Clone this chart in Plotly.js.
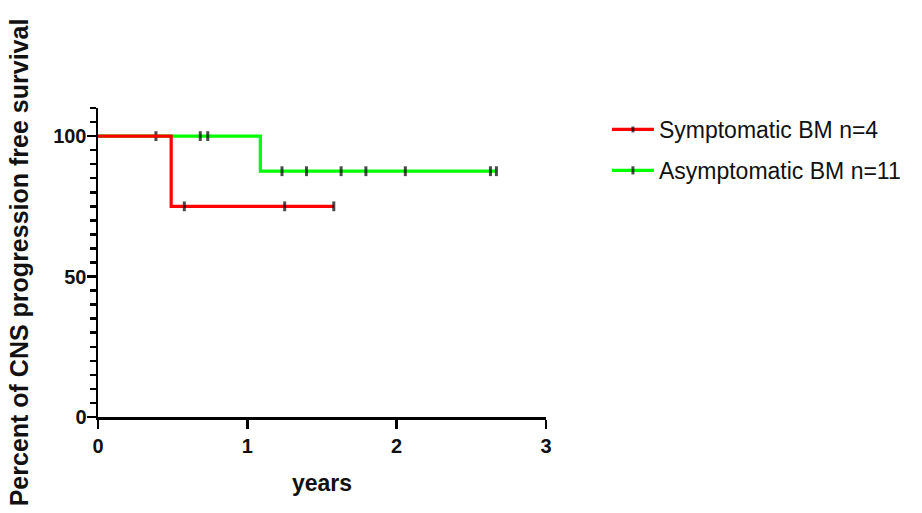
<!DOCTYPE html>
<html>
<head>
<meta charset="utf-8">
<script src="https://cdn.plot.ly/plotly-3.0.1.min.js"></script>
<style>html,body{margin:0;padding:0;background:#fff;}#chart{width:922px;height:513px;}</style>
</head>
<body>
<div id="chart"></div>
<script>
// Symptomatic BM (n=4): times in years, survival %, censored flag
const symName = "Symptomatic BM n=4";
const symYears = [0, 0.49, 0.578, 1.25, 1.579];
const symSurvival = [100, 75, 75, 75, 75];
const symCensored = [0, 0, 1, 1, 1];

// Asymptomatic BM (n=11)
const asymName = "Asymptomatic BM n=11";
const asymYears = [0, 0.388, 0.685, 0.735, 1.087, 1.232, 1.396, 1.628, 1.794, 2.058, 2.628, 2.668];
const asymSurvival = [100, 100, 100, 100, 87.5, 87.5, 87.5, 87.5, 87.5, 87.5, 87.5, 87.5];
const asymCensored = [0, 1, 1, 1, 0, 1, 1, 1, 1, 1, 1, 1];

// Axis ticks
const xTickVals = [0, 1, 2, 3];
const yTickVals = [0, 50, 100];

const xTitle = "years";
const yTitle = "Percent of CNS progression free survival";

const FONT = "Liberation Sans, Arial, sans-serif";

function kmTrace(name, xs, ys, cens, color, rank) {
  return {
    type: "scatter",
    mode: "lines+markers",
    name: name,
    x: xs,
    y: ys,
    line: {shape: "hv", color: color, width: 3.2},
    marker: {
      symbol: "line-ns",
      size: cens.map(c => c ? 7 : 0),
      color: "#000",
      line: {color: "#000", width: 3}
    },
    legendgroup: name,
    legendrank: rank,
    hoverinfo: "x+y"
  };
}

const traces = [
  kmTrace(asymName, asymYears, asymSurvival, asymCensored, "#00ff00", 2),
  kmTrace(symName, symYears, symSurvival, symCensored, "#ff0000", 1)
];

const layout = {
  width: 922,
  height: 513,
  margin: {l: 98, r: 376, t: 108, b: 96},
  paper_bgcolor: "#fff",
  plot_bgcolor: "#fff",
  font: {family: FONT, color: "#000"},
  showlegend: true,
  legend: {
    x: 1.136, y: 1.0, xanchor: "left", yanchor: "top",
    font: {family: FONT, size: 23, color: "#111"},
    traceorder: "grouped",
    tracegroupgap: 8,
    itemwidth: 42,
    borderwidth: 0,
    bgcolor: "rgba(0,0,0,0)"
  },
  xaxis: {
    range: [0, 3],
    tickvals: xTickVals,
    ticktext: xTickVals.map(String),
    ticks: "outside",
    ticklen: 9,
    tickwidth: 2.5,
    tickcolor: "#000",
    showline: true,
    linecolor: "#000",
    linewidth: 2.5,
    showgrid: false,
    zeroline: false,
    tickfont: {family: FONT, size: 20, weight: "bold", color: "#111"},
    title: {text: xTitle, font: {family: FONT, size: 23, weight: "bold", color: "#111"}, standoff: 20}
  },
  yaxis: {
    range: [0, 110],
    tickvals: yTickVals,
    ticktext: yTickVals.map(String),
    ticks: "outside",
    ticklen: 9,
    tickwidth: 2.5,
    tickcolor: "#000",
    ticklabelstandoff: -4,
    minor: {dtick: 5, tick0: 0, ticks: "outside", ticklen: 6, tickwidth: 2.5, tickcolor: "#000", showgrid: false},
    showline: true,
    linecolor: "#000",
    linewidth: 2.5,
    showgrid: false,
    zeroline: false,
    tickfont: {family: FONT, size: 20, weight: "bold", color: "#111"},
    title: {text: yTitle, font: {family: FONT, size: 25, weight: "bold", color: "#111"}, standoff: 18}
  }
};

Plotly.newPlot("chart", traces, layout, {displayModeBar: false, staticPlot: true});
</script>
</body>
</html>
